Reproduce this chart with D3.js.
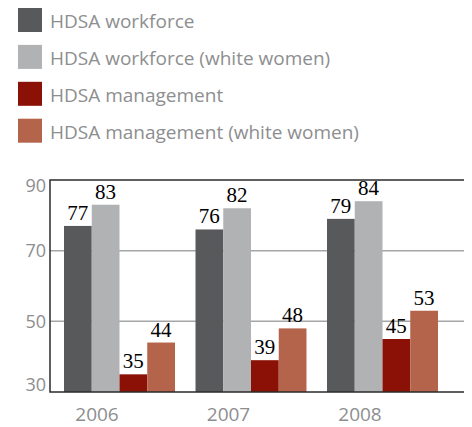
<!DOCTYPE html>
<html>
<head>
<meta charset="utf-8">
<script src="https://cdn.jsdelivr.net/npm/d3@7"></script>
<style>
  html, body { margin: 0; padding: 0; background: #fff; }
  svg { display: block; }
</style>
</head>
<body>
<svg id="chart" width="472" height="427"></svg>
<script>
// Chart data
const years = ["2006", "2007", "2008"];
const seriesNames = [
  "HDSA workforce",
  "HDSA workforce (white women)",
  "HDSA management",
  "HDSA management (white women)"
];
const workforce = [77, 76, 79];
const workforceWhiteWomen = [83, 82, 84];
const management = [35, 39, 45];
const managementWhiteWomen = [44, 48, 53];
const yTicks = [30, 50, 70, 90];
const colors = ["#58595b", "#b1b2b4", "#8b1006", "#b5644c"];

const seriesValues = [workforce, workforceWhiteWomen, management, managementWhiteWomen];

const svg = d3.select("#chart");
const plot = { left: 50, right: 464, top: 180, bottom: 392 };

const y = d3.scaleLinear().domain([30, 90]).range([plot.bottom, plot.top]);
const x0 = d3.scaleBand().domain(years).range([50, 452]).paddingInner(0.156).paddingOuter(0.1065);
const x1 = d3.scaleBand().domain(d3.range(seriesNames.length)).range([0, x0.bandwidth()]);

// Legend
const legend = svg.append("g");
seriesNames.forEach((name, i) => {
  const g = legend.append("g").attr("transform", `translate(18, ${8 + i * 36.9})`);
  g.append("rect").attr("width", 24).attr("height", 24).attr("fill", colors[i]);
  g.append("text")
    .attr("x", 32).attr("y", 20)
    .attr("font-family", "'Open Sans', 'Noto Sans', sans-serif")
    .attr("font-size", 19)
    .attr("fill", "#8d8e90")
    .text(name);
});

// Gridlines
svg.append("g")
  .selectAll("line")
  .data(yTicks.filter(t => t > 30 && t < 90))
  .join("line")
  .attr("x1", plot.left).attr("x2", plot.right)
  .attr("y1", d => y(d)).attr("y2", d => y(d))
  .attr("stroke", "#a5a6a8").attr("stroke-width", 1.5);

// Bars
const groups = svg.append("g")
  .selectAll("g")
  .data(years)
  .join("g")
  .attr("transform", d => `translate(${x0(d)},0)`);

groups.selectAll("rect")
  .data((d, yi) => seriesValues.map((vals, si) => ({ si, v: vals[yi] })))
  .join("rect")
  .attr("x", d => x1(d.si))
  .attr("width", x1.bandwidth())
  .attr("y", d => y(d.v))
  .attr("height", d => y(30) - y(d.v))
  .attr("fill", d => colors[d.si]);

groups.selectAll("text")
  .data((d, yi) => seriesValues.map((vals, si) => ({ si, v: vals[yi] })))
  .join("text")
  .attr("x", d => x1(d.si) + x1.bandwidth() / 2)
  .attr("y", d => y(d.v) - 6)
  .attr("text-anchor", "middle")
  .attr("font-family", "'Liberation Serif', 'Times New Roman', serif")
  .attr("font-size", 21)
  .attr("fill", "#000")
  .text(d => d.v);

// Frame: top, left and bottom lines
svg.append("path")
  .attr("d", `M${plot.right},${plot.top}H${plot.left}V${plot.bottom}H${plot.right}`)
  .attr("fill", "none")
  .attr("stroke", "#2b2b2b")
  .attr("stroke-width", 1.5);

// Y tick labels (the end ones nudged inside the frame)
svg.append("g")
  .selectAll("text")
  .data(yTicks)
  .join("text")
  .attr("x", 46)
  .attr("y", d => y(d) + (d === 90 ? 6 : d === 30 ? -7 : 0))
  .attr("dy", "0.35em")
  .attr("text-anchor", "end")
  .attr("font-family", "'Open Sans', 'Noto Sans', sans-serif")
  .attr("font-size", 18)
  .attr("fill", "#8d8e90")
  .text(d => d);

// X labels
svg.append("g")
  .selectAll("text")
  .data(years)
  .join("text")
  .attr("x", d => x0(d) + 33)
  .attr("y", 421)
  .attr("text-anchor", "middle")
  .attr("font-family", "'Open Sans', 'Noto Sans', sans-serif")
  .attr("font-size", 19)
  .attr("fill", "#8d8e90")
  .text(d => d);
</script>
</body>
</html>
